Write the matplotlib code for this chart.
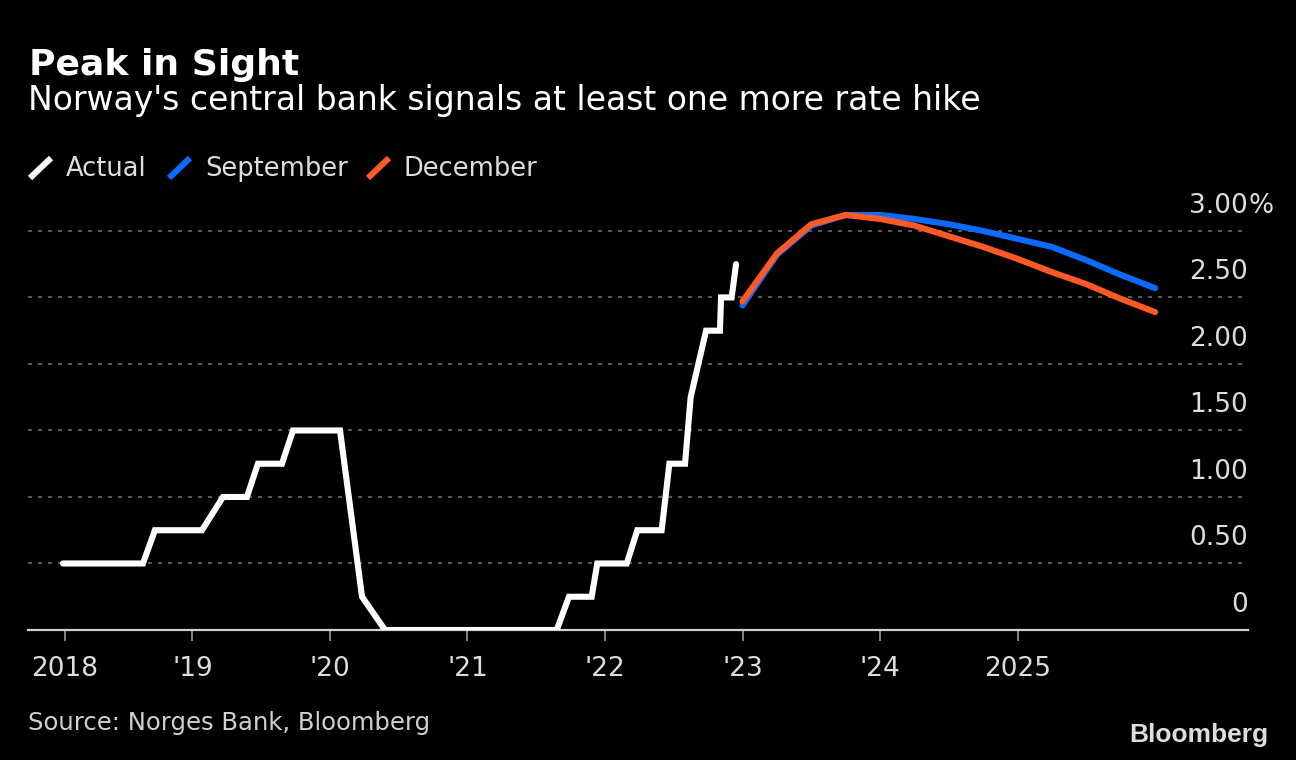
import matplotlib
matplotlib.use("Agg")
import matplotlib.pyplot as plt
import matplotlib.transforms as mtransforms
from matplotlib.lines import Line2D

# Norges Bank policy rate, actual (decimal year, %)
actual_t = [2018.058, 2018.64, 2018.727, 2019.069, 2019.222, 2019.396, 2019.476,
            2019.651, 2019.731, 2020.073, 2020.233, 2020.40, 2021.649, 2021.738,
            2021.903, 2021.944, 2022.158, 2022.235, 2022.412, 2022.468, 2022.582,
            2022.623, 2022.735, 2022.836, 2022.844, 2022.921, 2022.953]
actual_v = [0.5, 0.5, 0.75, 0.75, 1.0, 1.0, 1.25,
            1.25, 1.5, 1.5, 0.25, 0.0, 0.0, 0.25,
            0.25, 0.5, 0.5, 0.75, 0.75, 1.25, 1.25,
            1.75, 2.25, 2.25, 2.5, 2.5, 2.75]

# rate path forecasts, quarterly
forecast_t = [2023.0, 2023.25, 2023.5, 2023.75, 2024.0, 2024.25, 2024.5,
              2024.75, 2025.0, 2025.25, 2025.5, 2025.75, 2026.0]
september_v = [2.44, 2.82, 3.04, 3.12, 3.12, 3.09, 3.05, 3.00, 2.94, 2.88, 2.78, 2.67, 2.57]
december_v = [2.47, 2.83, 3.05, 3.12, 3.09, 3.04, 2.96, 2.88, 2.79, 2.69, 2.60, 2.49, 2.39]

series_names = ["Actual", "September", "December"]
series_colors = ["#ffffff", "#0a6cff", "#ff5a26"]

xtick_pos = [2018.07, 2019, 2020, 2021, 2022, 2023, 2024, 2025]
xtick_labels = ["2018", "'19", "'20", "'21", "'22", "'23", "'24", "2025"]
ytick_pos = [0, 0.5, 1.0, 1.5, 2.0, 2.5, 3.0]
ytick_labels = ["0", "0.50", "1.00", "1.50", "2.00", "2.50", "3.00"]

W, H = 1296, 760
fig = plt.figure(figsize=(W / 100, H / 100), dpi=100, facecolor="black")
ax = fig.add_axes([28 / W, 130 / H, 1220 / W, 439 / H], facecolor="black")

ax.set_xlim(2017.804, 2026.676)
ax.set_ylim(0, 3.3)

# gridlines
for v in ytick_pos[1:]:
    ax.axhline(v, color="#6a6a6a", lw=1.2, dashes=(2.4, 3.6), zorder=1)

ax.plot(forecast_t, september_v, color=series_colors[1], lw=4.4,
        solid_capstyle="round", solid_joinstyle="round", zorder=3)
ax.plot(forecast_t, december_v, color=series_colors[2], lw=4.4,
        solid_capstyle="round", solid_joinstyle="round", zorder=4)
ax.plot(actual_t, actual_v, color=series_colors[0], lw=4.4,
        solid_capstyle="round", solid_joinstyle="miter", zorder=5)

for s in ["top", "right", "left"]:
    ax.spines[s].set_visible(False)
ax.spines["bottom"].set_color("#d0d0d0")
ax.spines["bottom"].set_linewidth(1.6)
ax.spines["bottom"].set_zorder(2)

ax.set_xticks(xtick_pos)
ax.set_xticklabels(xtick_labels)
ax.tick_params(axis="x", colors="#9a9a9a", length=8, width=1.2, pad=11,
               labelsize=19, labelcolor="#dddddd")
ax.set_yticks([])

# y labels sit above their gridlines, on the right
trans = mtransforms.blended_transform_factory(ax.transAxes, ax.transData)
for v, lab in zip(ytick_pos, ytick_labels):
    ax.annotate(lab, xy=(1.0, v), xycoords=trans, xytext=(0, 13), textcoords="offset points",
                ha="right", va="baseline", fontsize=19, color="#dddddd", annotation_clip=False)
ax.annotate("%", xy=(1.0, 3.0), xycoords=trans, xytext=(0, 13), textcoords="offset points",
            ha="left", va="baseline", fontsize=19, color="#dddddd", annotation_clip=False)

# title block
fig.text(29 / W, 1 - 75 / H, "Peak in Sight", fontsize=26, fontweight="bold",
         color="white", va="baseline", ha="left")
fig.text(28 / W, 1 - 110 / H, "Norway's central bank signals at least one more rate hike",
         fontsize=23.8, color="white", va="baseline", ha="left")

# legend
leg_x = [30, 169, 368]
for x0, name, col in zip(leg_x, series_names, series_colors):
    fig.add_artist(Line2D([x0 / W, (x0 + 21) / W], [1 - 178 / H, 1 - 158 / H],
                          transform=fig.transFigure, color=col, lw=4.4, solid_capstyle="butt"))
    fig.text((x0 + 36) / W, 1 - 176 / H, name, fontsize=18.5, color="#dddddd",
             va="baseline", ha="left")

fig.text(28 / W, 1 - 730 / H, "Source: Norges Bank, Bloomberg", fontsize=17.5,
         color="#d0d0d0", va="baseline", ha="left")
fig.text(1268 / W, 1 - 742 / H, "Bloomberg", fontsize=19, fontweight="bold",
         family="Liberation Sans", color="#dddddd", va="baseline", ha="right")

fig.savefig("out.png", dpi=100, facecolor="black")
